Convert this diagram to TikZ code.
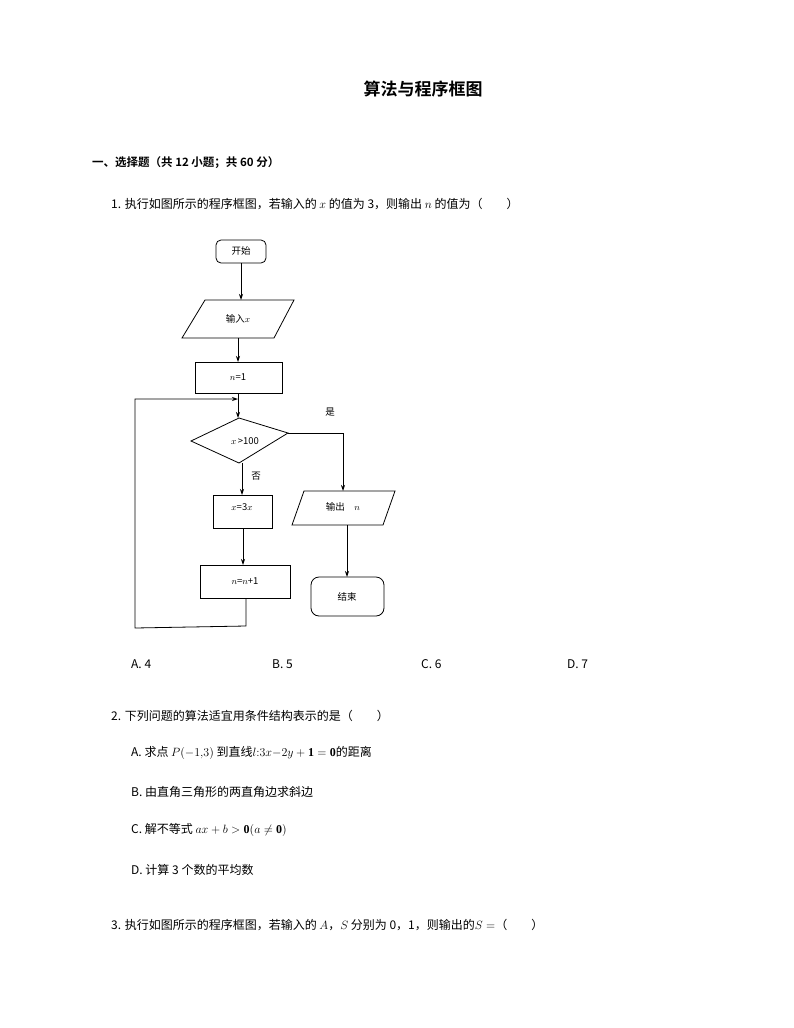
\documentclass[tikz,border=0pt]{standalone}
\usepackage{fontspec}
\usepackage{amsmath}
\setmainfont{Liberation Serif}
\newfontfamily\cjk{Noto Sans CJK SC}
\newfontfamily\cjkb{Noto Sans CJK SC Bold}
\usetikzlibrary{shapes.geometric,arrows.meta}
\begin{document}
\begin{tikzpicture}[x=1pt,y=-1pt,
  txt/.style={anchor=west,inner sep=0pt,font=\cjk\fontsize{12}{14}\selectfont},
  fc/.style={draw,line width=0.8pt},
  fl/.style={font=\cjk\fontsize{9.5}{11}\selectfont},
  arr/.style={line width=0.8pt,-{Stealth[length=6pt,width=4pt]}},
  ln/.style={line width=0.8pt}]
\useasboundingbox (0,0) rectangle (794,1028);
\node[inner sep=0pt,font=\cjkb\fontsize{17}{20}\selectfont] (title) at (423,89) {算法与程序框图};
\node[txt,font=\cjkb\fontsize{11.5}{14}\selectfont] (sec) at (92,163) {一、选择题（共 12 小题；共 60 分）};
\node[txt] (q1) at (111,204) {1. 执行如图所示的程序框图，若输入的 $x$ 的值为 3，则输出 $n$ 的值为（\hspace{2em}）};
% flowchart
\draw[fc,rounded corners=5pt] (216,240) rectangle (266,263);
\node[fl] (start) at (241,251) {开始};
\draw[fc] (205,300) -- (294,300) -- (274,338) -- (182,338) -- cycle;
\node[fl] (in) at (238,319) {输入$x$};
\draw[fc] (195,362) rectangle (282,393);
\node[fl] (n1) at (238,377) {$n$=1};
\draw[fc] (239,418) -- (288,433) -- (239,463) -- (191,441) -- cycle;
\node[fl] (cond) at (245,441) {$x$\,>100};
\draw[fc] (213,495) rectangle (272,528);
\node[fl] (x3) at (242,507) {$x$=3$x$};
\draw[fc] (200,565) rectangle (290,598);
\node[fl] (nn) at (245,581) {$n$=$n$+1};
\draw[fc] (304,491) -- (395,491) -- (383,525) -- (292,525) -- cycle;
\node[fl] (out) at (343,507) {输出\quad $n$};
\draw[fc,rounded corners=8pt] (311,577) rectangle (384,616);
\node[fl] (end) at (347,597) {结束};
\node[fl] (yes) at (330,412) {是};
\node[fl] (no) at (256,476) {否};
\coordinate (a0) at (241,263); \coordinate (a1) at (241,300);
\draw[arr] (a0) -- (a1);
\coordinate (b0) at (238,338); \coordinate (b1) at (238,362);
\draw[arr] (b0) -- (b1);
\coordinate (c0) at (238,393); \coordinate (c1) at (238,418);
\draw[arr] (c0) -- (c1);
\coordinate (d0) at (242,463); \coordinate (d1) at (242,495);
\draw[arr] (d0) -- (d1);
\coordinate (e0) at (243,528); \coordinate (e1) at (243,565);
\draw[arr] (e0) -- (e1);
\coordinate (f0) at (288,433); \coordinate (f1) at (343,491);
\draw[arr] (f0) -- (343,433) -- (f1);
\coordinate (g0) at (347,525); \coordinate (g1) at (347,577);
\draw[arr] (g0) -- (g1);
\coordinate (h0) at (246,598); \coordinate (h1) at (238,399);
\draw[arr] (h0) -- (246,626) -- (135,628) -- (135,399) -- (h1);
% answers
\node[txt] (a) at (131,664) {A. 4};
\node[txt] (b) at (272,664) {B. 5};
\node[txt] (c) at (421,664) {C. 6};
\node[txt] (d) at (567,664) {D. 7};
\node[txt] (q2) at (111,716) {2. 下列问题的算法适宜用条件结构表示的是（\hspace{2em}）};
\node[txt] (q2a) at (131,753) {A. 求点 $P(-1{,}3)$ 到直线$l{:}3x{-}2y+\mathbf{1}=\mathbf{0}$的距离};
\node[txt] (q2b) at (131,792) {B. 由直角三角形的两直角边求斜边};
\node[txt] (q2c) at (131,830) {C. 解不等式 $ax+b>\mathbf{0}(a\neq\mathbf{0})$};
\node[txt] (q2d) at (131,870) {D. 计算 3 个数的平均数};
\node[txt] (q3) at (111,925) {3. 执行如图所示的程序框图，若输入的 $A$，$S$ 分别为 0，1，则输出的$S=$（\hspace{2em}）};
\end{tikzpicture}
\end{document}
